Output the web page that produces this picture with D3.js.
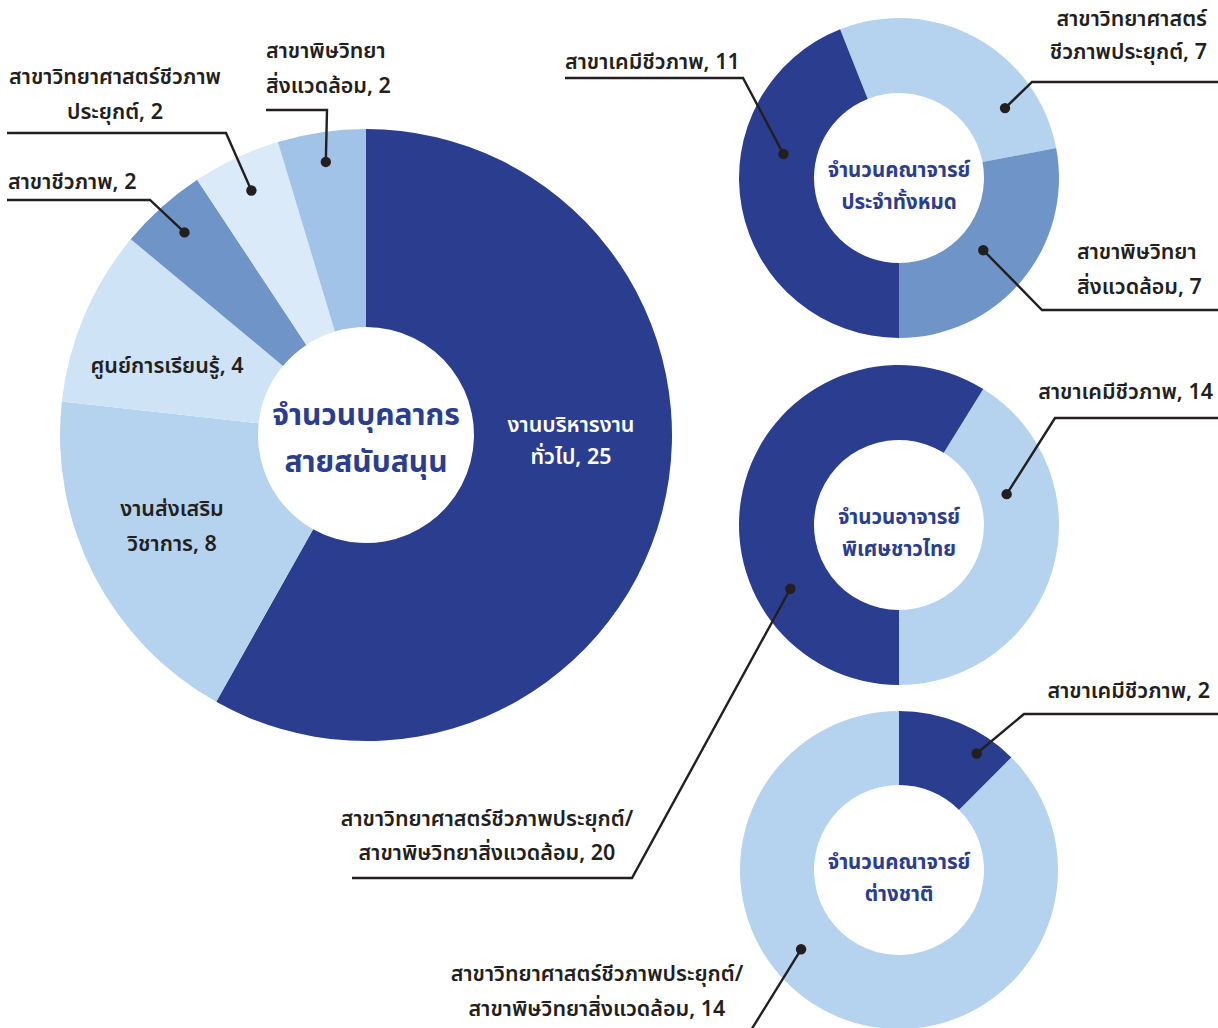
<!DOCTYPE html>
<html>
<head>
<meta charset="utf-8">
<script src="https://cdn.jsdelivr.net/npm/d3@7"></script>
<style>
  html, body { margin: 0; padding: 0; background: #fff; }
  svg { display: block; }
  text { font-family: "Noto Sans Thai", "Noto Sans", "DejaVu Sans", sans-serif; }
</style>
</head>
<body>
<svg id="chart" width="1218" height="1028"></svg>
<script>
// ---------- DATA ----------
// Donut A: support staff
const staffCategories = ["งานบริหารงานทั่วไป", "งานส่งเสริมวิชาการ", "ศูนย์การเรียนรู้", "สาขาชีวภาพ", "สาขาวิทยาศาสตร์ชีวภาพประยุกต์", "สาขาพิษวิทยาสิ่งแวดล้อม"];
const staffValues = [25, 8, 4, 2, 2, 2];
const staffTitle = ["จำนวนบุคลากร", "สายสนับสนุน"];

// Donut B: full-time faculty
const facultyCategories = ["สาขาวิทยาศาสตร์ชีวภาพประยุกต์", "สาขาพิษวิทยาสิ่งแวดล้อม", "สาขาเคมีชีวภาพ"];
const facultyValues = [7, 7, 11];
const facultyTitle = ["จำนวนคณาจารย์", "ประจำทั้งหมด"];

// Donut C: Thai special lecturers
const thaiCategories = ["สาขาเคมีชีวภาพ", "สาขาวิทยาศาสตร์ชีวภาพประยุกต์/สาขาพิษวิทยาสิ่งแวดล้อม"];
const thaiValues = [14, 20];
const thaiTitle = ["จำนวนอาจารย์", "พิเศษชาวไทย"];

// Donut D: foreign faculty
const foreignCategories = ["สาขาเคมีชีวภาพ", "สาขาวิทยาศาสตร์ชีวภาพประยุกต์/สาขาพิษวิทยาสิ่งแวดล้อม"];
const foreignValues = [2, 14];
const foreignTitle = ["จำนวนคณาจารย์", "ต่างชาติ"];

// ---------- STYLE / LAYOUT ----------
const DARK = "#2a3d8f";
const staffColors = [DARK, "#b5d3ef", "#cfe3f6", "#6f95c8", "#dbeaf8", "#a2c3e8"];
const facultyColors = ["#b5d3ef", "#6f95c8", DARK];
const thaiColors = ["#b5d3ef", DARK];
const foreignColors = [DARK, "#b5d3ef"];
const TXT = "#231f20";
const LABEL_SIZE = 21.5;
const rad = Math.PI / 180;

const svg = d3.select("#chart");

function drawDonut(cfg) {
  const g = svg.append("g").attr("transform", `translate(${cfg.cx},${cfg.cy})`);
  const pie = d3.pie().sort(null).value(d => d.v)
    .startAngle(cfg.start * rad).endAngle(cfg.start * rad + 2 * Math.PI);
  const arc = d3.arc().innerRadius(cfg.inner).outerRadius(cfg.outer);
  const data = cfg.values.map((v, i) => ({ v, c: cfg.categories[i], col: cfg.colors[i] }));
  const arcs = pie(data);
  g.selectAll("path.slice").data(arcs).join("path")
    .attr("class", "slice")
    .attr("d", arc)
    .attr("fill", d => d.data.col);
  g.selectAll("text.title").data(cfg.title).join("text")
    .attr("class", "title")
    .attr("text-anchor", "middle")
    .attr("x", 0)
    .attr("y", (d, i) => cfg.titleY[i])
    .attr("fill", DARK)
    .attr("font-size", cfg.titleSize)
    .attr("font-weight", 700)
    .text(d => d);
  return { g, arcs };
}

function leader(cfg, donut, L) {
  const a = donut.arcs[L.idx];
  const ang = (L.angle !== undefined ? L.angle * rad : (a.startAngle + a.endAngle) / 2);
  const px = cfg.cx + L.r * Math.sin(ang);
  const py = cfg.cy - L.r * Math.cos(ang);
  const pts = [[px, py]].concat(L.path);
  svg.append("path")
    .attr("d", d3.line()(pts))
    .attr("fill", "none")
    .attr("stroke", TXT)
    .attr("stroke-width", 2.4);
  svg.append("circle").attr("cx", px).attr("cy", py).attr("r", 5.2).attr("fill", TXT);
}

function label(lines, x, ys, anchor, color, size) {
  svg.append("g").selectAll("text").data(lines).join("text")
    .attr("x", x).attr("y", (d, i) => ys[i])
    .attr("text-anchor", anchor)
    .attr("fill", color || TXT)
    .attr("font-size", size || LABEL_SIZE)
    .attr("font-weight", 600)
    .text(d => d);
}

// ---------- Donut A ----------
const cfgA = { cx: 366, cy: 435, inner: 108, outer: 306, start: 0, values: staffValues, categories: staffCategories, colors: staffColors, title: staffTitle, titleY: [-10, 37], titleSize: 30 };
const dA = drawDonut(cfgA);
leader(cfgA, dA, { idx: 5, r: 276, path: [[327, 110], [266, 110]] });
leader(cfgA, dA, { idx: 4, r: 270, path: [[226, 133], [7, 133]] });
leader(cfgA, dA, { idx: 3, r: 272, path: [[150, 200], [7, 200]] });

label(["สาขาพิษวิทยา", `สิ่งแวดล้อม, ${staffValues[5]}`], 266, [58, 93], "start");
label(["สาขาวิทยาศาสตร์ชีวภาพ", `ประยุกต์, ${staffValues[4]}`], 115, [84, 119], "middle");
label([`สาขาชีวภาพ, ${staffValues[3]}`], 8, [189], "start");
label([`ศูนย์การเรียนรู้, ${staffValues[2]}`], 167, [373], "middle");
label(["งานส่งเสริม", `วิชาการ, ${staffValues[1]}`], 172, [516, 551], "middle");
label(["งานบริหารงาน", `ทั่วไป, ${staffValues[0]}`], 571, [432, 464], "middle", "#ffffff");

// ---------- Donut B ----------
const cfgB = { cx: 899, cy: 178, inner: 85, outer: 160, start: -21.6, values: facultyValues, categories: facultyCategories, colors: facultyColors, title: facultyTitle, titleY: [-1, 31], titleSize: 20.5 };
const dB = drawDonut(cfgB);
leader(cfgB, dB, { idx: 2, angle: -78.3, r: 118, path: [[743, 78], [565, 78]] });
leader(cfgB, dB, { idx: 0, angle: 56.6, r: 127, path: [[1032, 82], [1218, 82]] });
leader(cfgB, dB, { idx: 1, angle: 130.6, r: 111, path: [[1042, 310], [1218, 310]] });
label([`สาขาเคมีชีวภาพ, ${facultyValues[2]}`], 565, [69], "start");
label(["สาขาวิทยาศาสตร์", `ชีวภาพประยุกต์, ${facultyValues[0]}`], 1207, [26, 59], "end");
label(["สาขาพิษวิทยา", `สิ่งแวดล้อม, ${facultyValues[1]}`], 1077, [259, 294], "start");

// ---------- Donut C ----------
const cfgC = { cx: 899, cy: 525, inner: 85, outer: 160, start: 180 - 360 * thaiValues[0] / d3.sum(thaiValues), values: thaiValues, categories: thaiCategories, colors: thaiColors, title: thaiTitle, titleY: [-1, 31], titleSize: 20.5 };
const dC = drawDonut(cfgC);
leader(cfgC, dC, { idx: 0, angle: 74, r: 112, path: [[1055, 418], [1218, 418]] });
leader(cfgC, dC, { idx: 1, angle: 239.6, r: 126, path: [[632, 878], [352, 878]] });
label([`สาขาเคมีชีวภาพ, ${thaiValues[0]}`], 1213, [399], "end");
label(["สาขาวิทยาศาสตร์ชีวภาพประยุกต์/", `สาขาพิษวิทยาสิ่งแวดล้อม, ${thaiValues[1]}`], 487, [826, 860], "middle");

// ---------- Donut D ----------
const cfgD = { cx: 899, cy: 870, inner: 85, outer: 159, start: 0, values: foreignValues, categories: foreignCategories, colors: foreignColors, title: foreignTitle, titleY: [-1, 31], titleSize: 20.5 };
const dD = drawDonut(cfgD);
leader(cfgD, dD, { idx: 0, angle: 33.7, r: 140, path: [[1024, 714], [1218, 714]] });
leader(cfgD, dD, { idx: 1, angle: 231, r: 126, path: [[740, 1048]] });
label([`สาขาเคมีชีวภาพ, ${foreignValues[0]}`], 1210, [698], "end");
label(["สาขาวิทยาศาสตร์ชีวภาพประยุกต์/", `สาขาพิษวิทยาสิ่งแวดล้อม, ${foreignValues[1]}`], 597, [981, 1016], "middle");
</script>
</body>
</html>
